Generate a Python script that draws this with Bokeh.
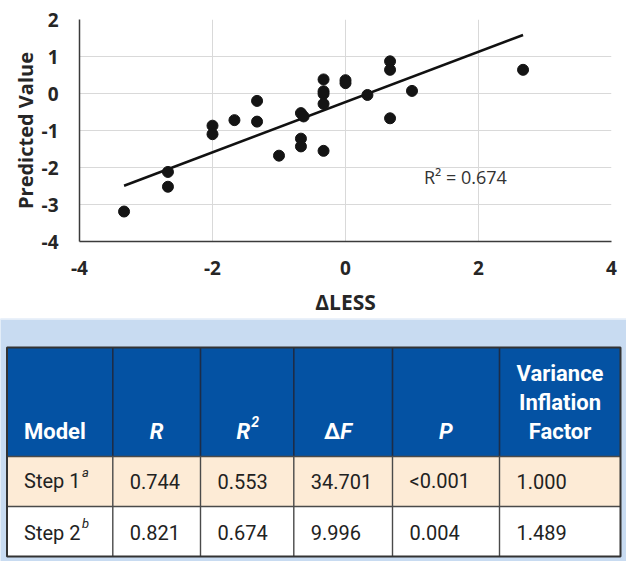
from bokeh.plotting import figure
from bokeh.models import Range1d, FixedTicker, Label, PrintfTickFormatter
from bokeh.layouts import column
from bokeh.core.properties import value
from bokeh.embed import file_html
from bokeh.resources import INLINE

# ---------------- data ----------------
less_x = [-3.33, -2.67, -2.67, -2.0, -2.0, -1.67, -1.33, -1.33, -1.0,
          -0.67, -0.63, -0.67, -0.67, -0.33, -0.33, -0.33, -0.33, -0.33,
          0.0, 0.0, 0.33, 0.67, 0.67, 0.67, 1.0, 2.67]
pred_y = [-3.19, -2.12, -2.52, -0.87, -1.10, -0.72, -0.20, -0.76, -1.68,
          -0.53, -0.62, -1.22, -1.43, 0.38, 0.06, -0.01, -0.28, -1.55,
          0.36, 0.28, -0.04, 0.87, 0.64, -0.67, 0.07, 0.64]
trend_slope = 0.679
trend_intercept = -0.232
trend_x = [-3.33, 2.67]
r2_text = "R\u00b2 = 0.674"
x_ticks = [-4, -2, 0, 2, 4]
y_ticks = [-4, -3, -2, -1, 0, 1, 2]

header_labels = ["Model", "R", "R", "F", "P"]
vif_header = ["Variance", "Inflation", "Factor"]
model_names = ["Step 1", "Step 2"]
model_notes = ["a", "b"]
r_vals = ["0.744", "0.821"]
r2_vals = ["0.553", "0.674"]
df_vals = ["34.701", "9.996"]
p_vals = ["<0.001", "0.004"]
vif_vals = ["1.000", "1.489"]

# ---------------- chart ----------------
CHART_FONT = "Open Sans"
p = figure(width=626, height=318, x_range=Range1d(-4, 4), y_range=Range1d(-4, 2),
           output_backend="svg", toolbar_location=None,
           min_border_left=79, min_border_right=15, min_border_top=19, min_border_bottom=77)
p.frame_align = False
p.outline_line_color = None
p.background_fill_color = "white"
p.xaxis.ticker = FixedTicker(ticks=x_ticks)
p.yaxis.ticker = FixedTicker(ticks=y_ticks)
p.xaxis.formatter = PrintfTickFormatter(format="%d")
p.yaxis.formatter = PrintfTickFormatter(format="%d")
p.xgrid.ticker = FixedTicker(ticks=x_ticks)
p.ygrid.ticker = FixedTicker(ticks=y_ticks)
p.grid.grid_line_color = "#D9D9D9"
p.grid.grid_line_width = 1
for ax in (p.xaxis, p.yaxis):
    ax.axis_line_color = "#3b3b3b"
    ax.axis_line_width = 1.5
    ax.major_tick_line_color = None
    ax.minor_tick_line_color = None
    ax.major_tick_out = 0
    ax.major_tick_in = 0
    ax.minor_tick_out = 0
    ax.major_label_text_font = CHART_FONT
    ax.major_label_text_font_style = "bold"
    ax.major_label_text_font_size = "19px"
    ax.major_label_text_color = "#262626"
    ax.axis_label_text_font = CHART_FONT
    ax.axis_label_text_font_style = "bold"
    ax.axis_label_text_color = "#262626"
p.xaxis.axis_label = "\u0394LESS"
p.yaxis.axis_label = "Predicted Value"
p.xaxis.axis_label_text_font_size = "21px"
p.yaxis.axis_label_text_font_size = "20px"
p.xaxis.major_label_standoff = 19
p.yaxis.major_label_standoff = 21
p.xaxis.axis_label_standoff = 10
p.yaxis.axis_label_standoff = 0

p.line(trend_x, [trend_slope * v + trend_intercept for v in trend_x],
       line_color="#111111", line_width=2.5)
p.scatter(less_x, pred_y, size=11, fill_color="#141414", line_color="#141414")
p.add_layout(Label(x=1.18, y=-2.27, text=r2_text, text_baseline="middle",
                   text_font=CHART_FONT, text_font_size="18px", text_color="#333333"))

# ---------------- table ----------------
TF = "Roboto"
TH = 243
t = figure(width=626, height=TH, x_range=Range1d(0, 626), y_range=Range1d(TH, 0),
           output_backend="svg", toolbar_location=None, min_border=0)
t.frame_align = False
t.axis.visible = False
t.grid.visible = False
t.outline_line_color = None
t.background_fill_color = "#C8DBF1"
t.border_fill_color = "#C8DBF1"

edges = [6.5, 112.3, 200, 293.3, 392, 499, 620]
h_top, h_bot, r1_bot, r2_bot = 29, 138, 188, 238
centers = [(edges[i] + edges[i + 1]) / 2 for i in range(6)]

t.quad(left=[0], right=[626], top=[0], bottom=[1], fill_color="white", line_color=None)
t.quad(left=[edges[0]], right=[edges[-1]], top=[h_top], bottom=[h_bot],
       fill_color="#0452A3", line_color=None)
t.quad(left=[edges[0]], right=[edges[-1]], top=[h_bot], bottom=[r1_bot],
       fill_color="#FDEBD6", line_color=None)
t.quad(left=[edges[0]], right=[edges[-1]], top=[r1_bot], bottom=[r2_bot],
       fill_color="white", line_color=None)
# grid lines
t.segment(x0=edges[1:-1], y0=[h_top] * 5, x1=edges[1:-1], y1=[h_bot] * 5,
          line_color="#1d2c47", line_width=1.6)
t.segment(x0=edges[1:-1], y0=[h_bot] * 5, x1=edges[1:-1], y1=[r2_bot] * 5,
          line_color="#4a4a4a", line_width=1.4)
t.segment(x0=[edges[0]] * 2, y0=[h_bot, r1_bot], x1=[edges[-1]] * 2, y1=[h_bot, r1_bot],
          line_color="#4a4a4a", line_width=1.4)
t.quad(left=[edges[0]], right=[edges[-1]], top=[h_top], bottom=[r2_bot],
       fill_color=None, line_color="#333333", line_width=2)

hb = 113
hfs = "22px"
# header texts
t.text(x=[edges[0] + 17], y=[hb], text=[header_labels[0]], text_font=value(TF),
       text_font_size=hfs, text_font_style="bold", text_color="white",
       text_align="left", text_baseline="alphabetic")
t.text(x=[centers[1]], y=[hb], text=[header_labels[1]], text_font=value(TF),
       text_font_size=hfs, text_font_style="bold italic", text_color="white",
       text_align="center", text_baseline="alphabetic")
t.text(x=[centers[2] + 3], y=[hb], text=[header_labels[2]], text_font=value(TF),
       text_font_size=hfs, text_font_style="bold italic", text_color="white",
       text_align="right", text_baseline="alphabetic")
t.text(x=[centers[2] + 4], y=[hb - 10], text=["2"], text_font=value(TF),
       text_font_size="14px", text_font_style="bold italic", text_color="white",
       text_align="left", text_baseline="alphabetic")
t.text(x=[centers[3] - 3], y=[hb], text=["\u0394"], text_font=value(TF),
       text_font_size=hfs, text_font_style="bold", text_color="white",
       text_align="right", text_baseline="alphabetic")
t.text(x=[centers[3] - 3], y=[hb], text=[header_labels[3]], text_font=value(TF),
       text_font_size=hfs, text_font_style="bold italic", text_color="white",
       text_align="left", text_baseline="alphabetic")
t.text(x=[centers[4]], y=[hb], text=[header_labels[4]], text_font=value(TF),
       text_font_size=hfs, text_font_style="bold italic", text_color="white",
       text_align="center", text_baseline="alphabetic")
t.text(x=[centers[5]] * 3, y=[hb - 58, hb - 29, hb], text=vif_header, text_font=value(TF),
       text_font_size=hfs, text_font_style="bold", text_color="white",
       text_align="center", text_baseline="alphabetic")

# body
row_base = [162.5, 214]
dfs = "20px"
cols = [model_names, r_vals, r2_vals, df_vals, p_vals, vif_vals]
for ci, col in enumerate(cols):
    t.text(x=[edges[ci] + 17] * 2, y=row_base, text=col, text_font=value(TF),
           text_font_size=dfs, text_color="#222222", text_align="left",
           text_baseline="alphabetic")
t.text(x=[edges[0] + 75] * 2, y=[b - 9 for b in row_base], text=model_notes,
       text_font=value(TF), text_font_size="13px", text_font_style="italic",
       text_color="#222222", text_align="left", text_baseline="alphabetic")

layout = column(p, t, spacing=0)
open("out.html", "w").write(file_html(layout, INLINE))
